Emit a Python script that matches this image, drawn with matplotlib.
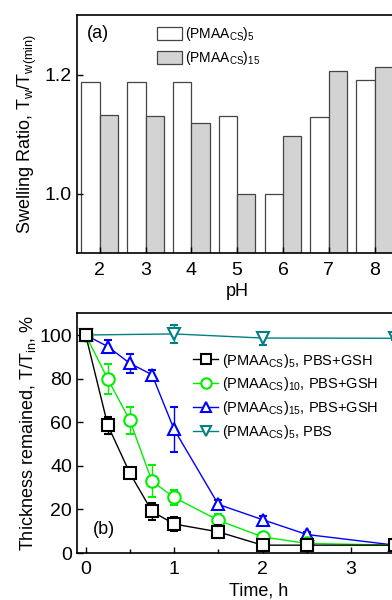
import numpy as np
import matplotlib
matplotlib.use("Agg")
import matplotlib.pyplot as plt
from matplotlib.lines import Line2D

plt.rcParams['font.family'] = ['Liberation Sans', 'DejaVu Sans']
plt.rcParams['mathtext.fontset'] = 'custom'
plt.rcParams['mathtext.rm'] = 'Liberation Sans'
plt.rcParams['mathtext.it'] = 'Liberation Sans'

# (a) swelling ratio vs pH
ph = [2, 3, 4, 5, 6, 7, 8]
swell_5 = [1.188, 1.188, 1.188, 1.130, 1.000, 1.129, 1.191]
swell_15 = [1.132, 1.130, 1.118, 1.000, 1.097, 1.206, 1.212]

# (b) thickness remained vs time
time_h = [0, 0.25, 0.5, 0.75, 1.0, 1.5, 2.0, 2.5, 3.5]
thick_5 = [100, 58.6, 36.6, 19.1, 13.3, 9.7, 3.6, 3.6, 3.6]
err_5 = [0, 4, 2, 4, 3, 3, 1, 1, 0.5]
thick_10 = [100, 79.8, 60.8, 32.9, 25.5, 15.0, 7.4, 4.4, 3.6]
err_10 = [0, 6.8, 6, 7.3, 3.5, 3, 2, 1, 0.5]
thick_15 = [100, 94.7, 87.0, 81.8, 56.7, 22.3, 15.3, 8.5, 3.6]
err_15 = [1, 3, 4.2, 2, 10.5, 2, 1.5, 1, 0.5]
time_pbs = [0, 1.0, 2.0, 3.5]
thick_pbs = [100, 100.5, 98.6, 98.5]
err_pbs = [0, 4, 3, 1]

TICK = 14
LAB = 13

fig = plt.figure(figsize=(3.92, 6.0), dpi=100)

# ---- panel (a)
ax1 = fig.add_axes([0.196, 0.578, 0.818, 0.397])
w = 0.4
x = np.array(ph)
ax1.bar(x - w / 2, swell_5, width=w, color='white', edgecolor='#444444',
        linewidth=0.9, label=r'(PMAA$_{\rm CS}$)$_5$')
ax1.bar(x + w / 2, swell_15, width=w, color='#d3d3d3', edgecolor='#444444',
        linewidth=0.9, label=r'(PMAA$_{\rm CS}$)$_{15}$')
ax1.set_xlim(1.5, 8.5)
ax1.set_ylim(0.9, 1.3)
ax1.set_xticks(ph)
ax1.set_yticks([1.0, 1.2])
ax1.set_yticklabels(['1.0', '1.2'])
ax1.tick_params(direction='in', labelsize=TICK, length=4, width=1)
ax1.tick_params(axis='x', pad=6)
ax1.set_xlabel('pH', fontsize=LAB, labelpad=3)
ax1.set_ylabel(r'Swelling Ratio, T$_{\rm w}$/T$_{\rm w(min)}$', fontsize=LAB, labelpad=4)
ax1.text(0.03, 0.96, '(a)', transform=ax1.transAxes, fontsize=LAB, va='top')
ax1.legend(loc='upper left', bbox_to_anchor=(0.21, 1.01), frameon=False,
           fontsize=10, handlelength=1.8, handleheight=1.0, handletextpad=0.25,
           labelspacing=0.45)
for s in ax1.spines.values():
  s.set_linewidth(1.2)

# ---- panel (b)
ax2 = fig.add_axes([0.196, 0.0783, 0.925, 0.3997])
mk = dict(markersize=9, markerfacecolor='white', markeredgewidth=1.5,
          linewidth=1, capsize=3, elinewidth=1, capthick=1)
series = [
  (time_h, thick_5, err_5, 'black', 's', r'(PMAA$_{\rm CS}$)$_5$, PBS+GSH', 5),
  (time_h, thick_10, err_10, '#00ee00', 'o', r'(PMAA$_{\rm CS}$)$_{10}$, PBS+GSH', 4),
  (time_h, thick_15, err_15, 'blue', '^', r'(PMAA$_{\rm CS}$)$_{15}$, PBS+GSH', 3),
  (time_pbs, thick_pbs, err_pbs, '#008080', 'v', r'(PMAA$_{\rm CS}$)$_5$, PBS', 2),
]
handles = []
labels = []
for t, y, e, c, m, lab, z in series:
  ax2.errorbar(t, y, yerr=e, color=c, marker=m, zorder=z, **mk)
  handles.append(Line2D([], [], color=c, marker=m, markersize=7.5,
                        markerfacecolor='white', markeredgewidth=1.5, linewidth=1))
  labels.append(lab)
ax2.set_xlim(-0.1, 4)
ax2.set_ylim(0, 110)
ax2.set_xticks([0, 1, 2, 3])
ax2.set_xticks(np.arange(0, 4.01, 0.5), minor=True)
ax2.set_yticks([0, 20, 40, 60, 80, 100])
ax2.tick_params(direction='in', labelsize=TICK, length=4, width=1)
ax2.tick_params(which='minor', direction='in', length=3, width=1)
ax2.tick_params(axis='x', pad=6)
ax2.set_xlabel('Time, h', fontsize=LAB, labelpad=3)
ax2.set_ylabel(r'Thickness remained, T/T$_{\rm in}$, %', fontsize=LAB, labelpad=1)
ax2.text(0.045, 0.1, '(b)', transform=ax2.transAxes, fontsize=LAB, va='center')
ax2.legend(handles, labels, loc='upper left', bbox_to_anchor=(0.285, 0.895),
           frameon=False, fontsize=10.5, handlelength=1.7, handletextpad=0.3,
           labelspacing=0.4)
for s in ax2.spines.values():
  s.set_linewidth(1.2)

fig.savefig('out.png', dpi=100)
